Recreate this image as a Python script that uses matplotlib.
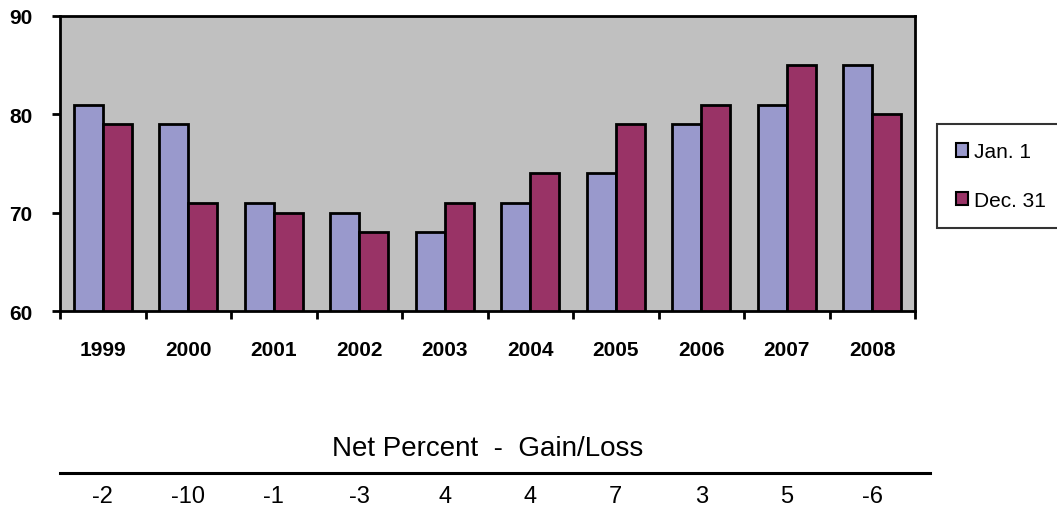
import numpy as np
import matplotlib
matplotlib.use("Agg")
import matplotlib.pyplot as plt
from matplotlib.lines import Line2D
from matplotlib.transforms import blended_transform_factory

years = ["1999", "2000", "2001", "2002", "2003", "2004", "2005", "2006", "2007", "2008"]
jan_1 = [81, 79, 71, 70, 68, 71, 74, 79, 81, 85]
dec_31 = [79, 71, 70, 68, 71, 74, 79, 81, 85, 80]
net_pct = [-2, -10, -1, -3, 4, 4, 7, 3, 5, -6]
y_ticks = [60, 70, 80, 90]

plt.rcParams["font.family"] = ["Liberation Sans", "DejaVu Sans"]

W, H = 1057, 510
fig = plt.figure(figsize=(W / 100, H / 100), dpi=100)
ax = fig.add_axes([60 / W, 1 - 312 / H, (915 - 60) / W, (312 - 17) / H])

x = np.arange(len(years))
bw = 0.34
ax.bar(x - bw / 2, jan_1, bw, color="#9999CC", edgecolor="black", lw=2, label="Jan. 1")
ax.bar(x + bw / 2, dec_31, bw, color="#993366", edgecolor="black", lw=2, label="Dec. 31")

ax.set_facecolor("#C0C0C0")
ax.set_xlim(-0.5, len(years) - 0.5)
ax.set_ylim(60, 90)
ax.set_yticks(y_ticks)
ax.set_xticks(x)
ax.set_xticklabels(years, fontweight="bold", fontsize=15)
ax.set_xticks(np.arange(len(years) + 1) - 0.5, minor=True)
ax.tick_params(axis="x", which="major", length=0, pad=21)
ax.tick_params(axis="x", which="minor", length=6, width=2, direction="out")
ax.tick_params(axis="y", length=6, width=2, direction="out", pad=14, labelsize=15)
for lab in ax.get_yticklabels():
    lab.set_fontweight("bold")
for s in ax.spines.values():
    s.set_linewidth(2)
    s.set_color("black")

leg = fig.legend(loc="center left", bbox_to_anchor=(937 / W, 1 - 177 / H),
                 fontsize=15, frameon=True, fancybox=False, edgecolor="black",
                 handlelength=0.6, handleheight=0.6, handletextpad=0.3,
                 labelspacing=1.4, borderpad=0.9, borderaxespad=0)
leg.get_frame().set_linewidth(1.5)
for h in leg.legend_handles:
    h.set_linewidth(1.5)

# net percent table under the chart
tr = blended_transform_factory(ax.transData, fig.transFigure)
fig.text((60 + 915) / 2 / W, 1 - 449 / H, "Net Percent  -  Gain/Loss",
         ha="center", va="center", fontsize=20)
fig.add_artist(Line2D([60 / W, 930 / W], [1 - 474 / H, 1 - 474 / H],
                      color="black", lw=2.2))
for xi, v in zip(x, net_pct):
    ax.text(xi, 1 - 497 / H, str(v), transform=tr, ha="center", va="center",
            fontsize=17, clip_on=False)

fig.savefig("out.png", dpi=100)
